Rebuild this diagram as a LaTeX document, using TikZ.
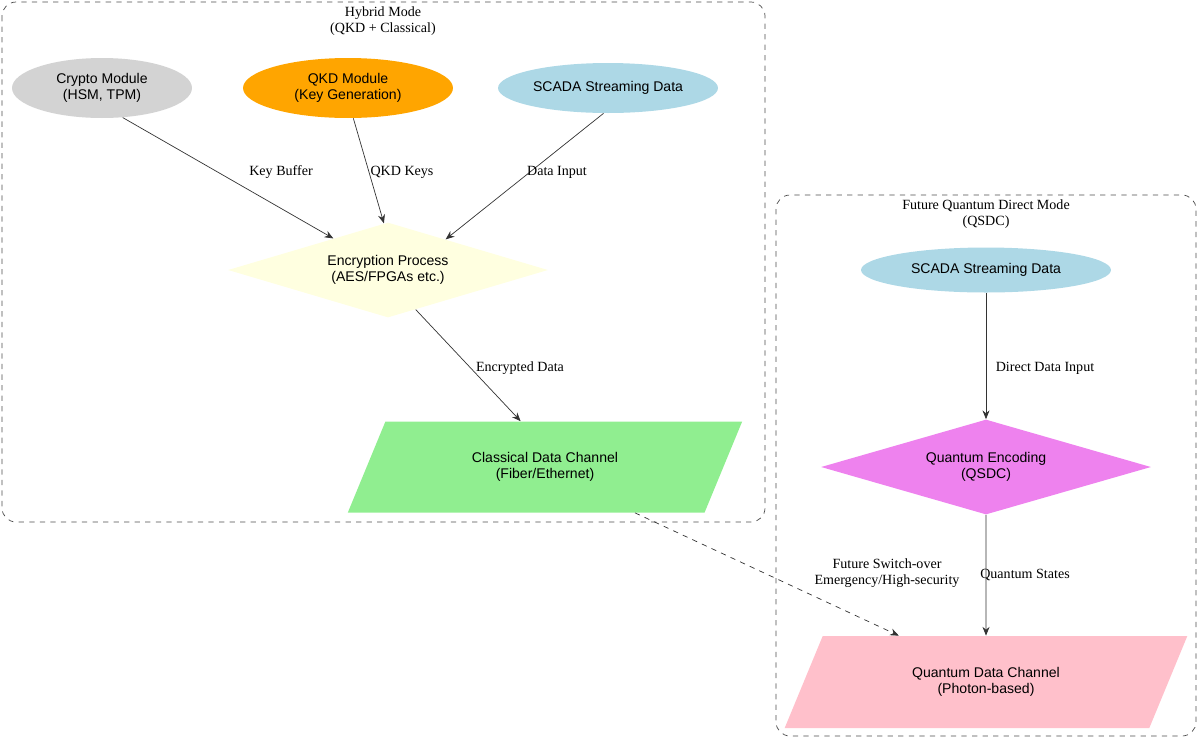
\documentclass[tikz,border=0pt]{standalone}
\usepackage{fontspec}
\setmainfont{Liberation Serif}
\setsansfont{Liberation Sans}
\usetikzlibrary{shapes.geometric,arrows.meta}
\definecolor{qorange}{RGB}{255,165,0}
\begin{document}
\begin{tikzpicture}[x=0.02cm,y=-0.02cm,
  every node/.style={font=\fontsize{8}{9.5}\selectfont, align=center},
  ell/.style={ellipse, inner sep=0pt, font=\sffamily\fontsize{8}{9.5}\selectfont},
  dia/.style={diamond, inner sep=0pt, aspect=3.4, font=\sffamily\fontsize{8}{9.5}\selectfont},
  par/.style={trapezium, trapezium left angle=60, trapezium right angle=120, trapezium stretches=true, inner sep=0pt, font=\sffamily\fontsize{8}{9.5}\selectfont},
  cluster/.style={draw=black!70, dashed, rounded corners=8pt},
  edge/.style={-{Stealth[length=5pt,width=4pt]}, black!80},
  lbl/.style={font=\fontsize{8}{9.5}\selectfont}]
\useasboundingbox (0,0) rectangle (1200,738);
\draw[cluster] (2,2) rectangle (765,522);
\node at (383,21) {Hybrid Mode\\(QKD + Classical)};
\draw[cluster] (776,195) rectangle (1196,736);
\node at (986,214) {Future Quantum Direct Mode\\(QSDC)};

\node[ell, fill={rgb,255:red,211;green,211;blue,211}, minimum width=3.6cm, minimum height=1.2cm] (crypto) at (102,88) {Crypto Module\\(HSM, TPM)};
\node[ell, fill=qorange, minimum width=4.2cm, minimum height=1.2cm] (qkd) at (348,88) {QKD Module\\(Key Generation)};
\node[ell, fill={rgb,255:red,173;green,216;blue,230}, minimum width=4.4cm, minimum height=1.0cm] (scada) at (608,88) {SCADA Streaming Data};
\node[dia, fill={rgb,255:red,255;green,255;blue,224}, minimum width=6.4cm, minimum height=1.9cm] (enc) at (388,270) {Encryption Process\\(AES/FPGAs etc.)};
\node[par, fill={rgb,255:red,144;green,238;blue,144}, minimum width=7.9cm, minimum height=1.82cm] (cdc) at (545,467) {Classical Data Channel\\(Fiber/Ethernet)};

\node[ell, fill={rgb,255:red,173;green,216;blue,230}, minimum width=5.0cm, minimum height=0.9cm] (scada2) at (986,270) {SCADA Streaming Data};
\node[dia, fill={rgb,255:red,238;green,130;blue,238}, minimum width=6.6cm, minimum height=1.9cm] (qenc) at (986,467) {Quantum Encoding\\(QSDC)};
\node[par, fill={rgb,255:red,255;green,192;blue,203}, minimum width=8.06cm, minimum height=1.84cm] (qdc) at (986,682) {Quantum Data Channel\\(Photon-based)};

\draw[edge] (crypto.-55) -- (enc.150);
\draw[edge] (qkd.-80) -- (enc.95);
\draw[edge] (scada.-100) -- (enc.28);
\node[lbl] at (281,172) {Key Buffer};
\node[lbl] at (402,172) {QKD Keys};
\node[lbl] at (557,172) {Data Input};
\draw[edge] (enc.-55) -- (cdc.118);
\node[lbl] at (520,368) {Encrypted Data};

\draw[edge] (scada2) -- (qenc);
\node[lbl] at (1045,368) {Direct Data Input};
\draw[edge] (qenc) -- (qdc);
\node[lbl] at (1025,575) {Quantum States};
\draw[edge, dashed] (cdc.-27) -- (qdc.152);
\node[lbl] at (887,573) {Future Switch-over\\Emergency/High-security};
\end{tikzpicture}
\end{document}
